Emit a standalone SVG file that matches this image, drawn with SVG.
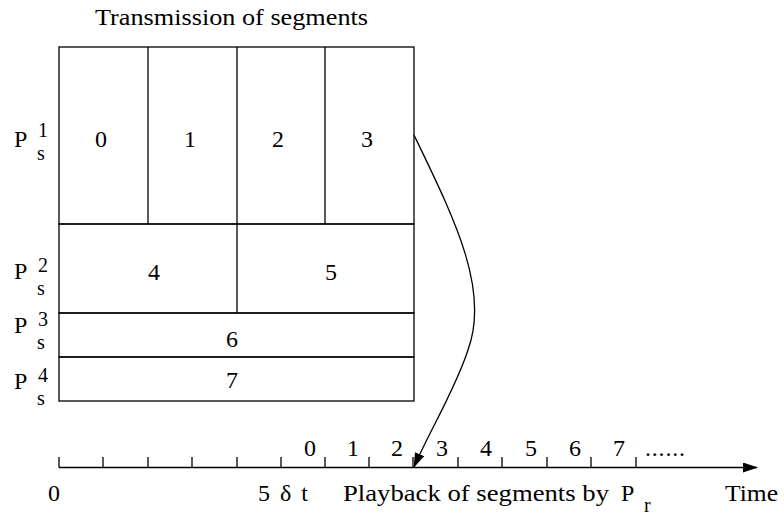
<svg xmlns="http://www.w3.org/2000/svg" width="784" height="516" viewBox="0 0 784 516">
<defs>
<style>
text{font-family:'Liberation Serif','Times New Roman',Times,'DejaVu Serif',serif;font-size:24px;fill:#000}
.c{text-anchor:middle}
.s{font-size:20px}
line,rect,path{stroke:#000;stroke-width:1.3;fill:none}
</style>
<marker id="ah" markerWidth="15" markerHeight="10" refX="14" refY="5" orient="auto" markerUnits="userSpaceOnUse">
<path d="M0,0 L15,5 L0,10 Z" style="fill:#000;stroke:none"/>
</marker>
</defs>
<rect width="784" height="516" style="fill:#fff;stroke:none"/>
<text x="95" y="25" textLength="273" lengthAdjust="spacingAndGlyphs">Transmission of segments</text>
<g id="row1">
<rect x="59" y="47" width="355" height="177"/>
<line x1="148" y1="47" x2="148" y2="224"/>
<line x1="237" y1="47" x2="237" y2="224"/>
<line x1="325" y1="47" x2="325" y2="224"/>
<text class="c" x="101" y="147">0</text>
<text class="c" x="190" y="147">1</text>
<text class="c" x="278" y="147">2</text>
<text class="c" x="367" y="147">3</text>
<text x="14" y="147">P<tspan class="s" x="38" y="136.5">1</tspan><tspan class="s" x="37" y="159.5">s</tspan></text>
</g>
<g id="row2">
<rect x="59" y="224" width="355" height="89"/>
<line x1="237" y1="224" x2="237" y2="313"/>
<text class="c" x="154" y="280">4</text>
<text class="c" x="331" y="280">5</text>
<text x="14" y="279">P<tspan class="s" x="38" y="271.5">2</tspan><tspan class="s" x="37" y="294.5">s</tspan></text>
</g>
<g id="row3">
<rect x="59" y="313" width="355" height="44"/>
<text class="c" x="232" y="347">6</text>
<text x="14" y="333">P<tspan class="s" x="38" y="325.5">3</tspan><tspan class="s" x="37" y="349">s</tspan></text>
</g>
<g id="row4">
<rect x="59" y="357" width="355" height="44"/>
<text class="c" x="232" y="388">7</text>
<text x="14" y="389">P<tspan class="s" x="38" y="382">4</tspan><tspan class="s" x="37" y="405">s</tspan></text>
</g>
<g id="axis">
<line x1="59" y1="467.5" x2="757" y2="467.5" marker-end="url(#ah)"/>
<path d="M59,457V467.5M103,457V467.5M148,457V467.5M192,457V467.5M237,457V467.5M281,457V467.5M325,457V467.5M369,457V467.5M413,457V467.5M458,457V467.5M502,457V467.5M547,457V467.5M591,457V467.5M636,457V467.5"/>
<text class="c" x="310" y="456">0</text>
<text class="c" x="353" y="456">1</text>
<text class="c" x="397" y="456">2</text>
<text class="c" x="442" y="456">3</text>
<text class="c" x="486" y="456">4</text>
<text class="c" x="531" y="456">5</text>
<text class="c" x="575" y="456">6</text>
<text class="c" x="619" y="456">7</text>
<text x="645" y="456" textLength="40" lengthAdjust="spacing">......</text>
<text class="c" x="54" y="501">0</text>
<text x="258" y="501" textLength="50" lengthAdjust="spacing">5 δ t</text>
<text x="343" y="501" textLength="266" lengthAdjust="spacingAndGlyphs">Playback of segments by</text>
<text x="621" y="501">P<tspan class="s" x="644" y="512">r</tspan></text>
<text x="725" y="501" textLength="53" lengthAdjust="spacingAndGlyphs">Time</text>
</g>
<g id="connectors">
<path d="M414,135 C455,220 490,290 468,350 C455,390 430,430 414,467" marker-end="url(#ah)"/>
</g>
</svg>
